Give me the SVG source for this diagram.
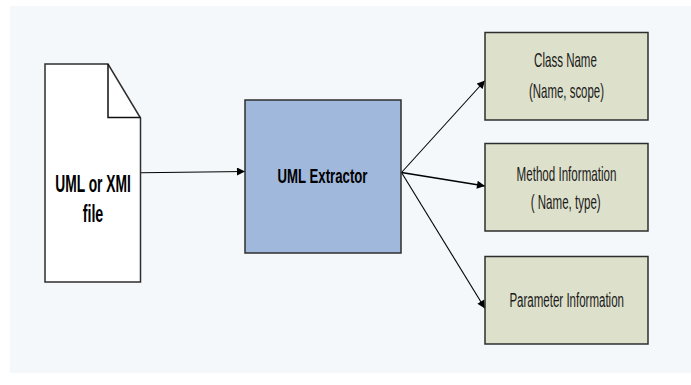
<svg xmlns="http://www.w3.org/2000/svg" width="691" height="385" viewBox="0 0 691 385">
<defs>
<marker id="ah" viewBox="0 0 10 10" refX="10" refY="5" markerWidth="9" markerHeight="8" markerUnits="userSpaceOnUse" orient="auto">
<path d="M0,0 L10,5 L0,10 z" fill="#000"/>
</marker>
<style>
.bg{fill:#f4f8fb}
.node{stroke:#2e2e2e;stroke-width:1.5}
.doc{fill:#ffffff}
.ext{fill:#9fb8dc}
.out{fill:#dde0ca}
.lbl{font-family:"Liberation Sans",Arial,sans-serif;font-size:20px;fill:#1a1a1a;text-anchor:middle}
.bold{font-weight:bold;fill:#000}
.big{font-size:23px}
.conn{fill:none;stroke:#000;stroke-width:1.1;marker-end:url(#ah)}
</style>
</defs>
<rect width="691" height="385" fill="#ffffff"/>
<rect class="bg" x="10" y="6" width="681" height="367"/>
<g id="connectors">
<path class="conn" d="M141,172.8 L245,171.5"/>
<path class="conn" d="M401.5,172.5 L485,80.5"/>
<path class="conn" d="M401.5,172.5 L485,186" style="stroke-width:1.6"/>
<path class="conn" d="M401.5,172.5 L485,308.5"/>
</g>
<g id="uml-file">
<path class="node doc" d="M45,64 L108,64 L140.5,118 L140.5,282 L45,282 Z"/>
<path fill="none" stroke="#111" stroke-width="1.5" d="M108,64 L108,117.5 L140.5,117.5"/>
<text class="lbl bold big" transform="translate(93,192.3) scale(0.6,1)">UML or XMI</text>
<text class="lbl bold big" transform="translate(93,221.7) scale(0.62,1)">file</text>
</g>
<g id="uml-extractor">
<rect class="node ext" x="245" y="100" width="156" height="153"/>
<text class="lbl bold" transform="translate(322.5,183.3) scale(0.66,1)">UML Extractor</text>
</g>
<g id="class-name">
<rect class="node out" x="485" y="32.5" width="163" height="87.5"/>
<text class="lbl" transform="translate(565.5,66.5) scale(0.577,1)">Class Name</text>
<text class="lbl" transform="translate(566.5,97.5) scale(0.572,1)">(Name, scope)</text>
</g>
<g id="method-information">
<rect class="node out" x="485" y="143.5" width="163" height="87.5"/>
<text class="lbl" transform="translate(566.5,180.7) scale(0.58,1)">Method Information</text>
<text class="lbl" transform="translate(565.7,209) scale(0.578,1)">( Name, type)</text>
</g>
<g id="parameter-information">
<rect class="node out" x="485" y="256.5" width="163" height="87.5"/>
<text class="lbl" transform="translate(566.7,307.3) scale(0.576,1)">Parameter Information</text>
</g>
</svg>
